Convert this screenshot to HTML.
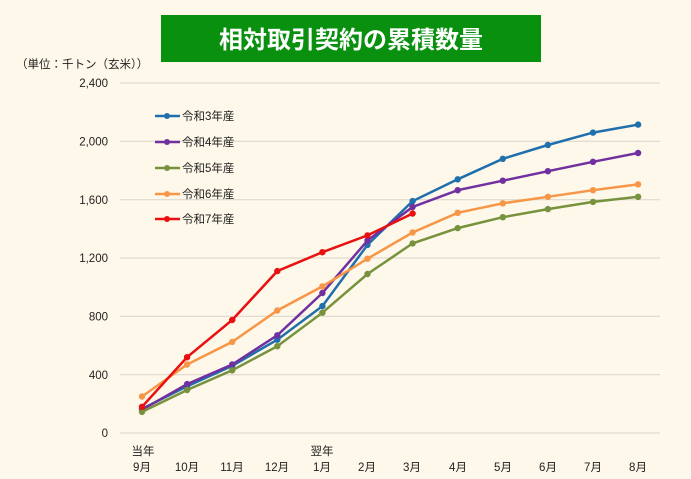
<!DOCTYPE html>
<html><head><meta charset="utf-8"><style>
html,body{margin:0;padding:0;background:#fef8ea;}
body{width:691px;height:479px;overflow:hidden;position:relative;font-family:"Liberation Sans","Noto Sans CJK JP",sans-serif;}
</style></head><body>
<svg width="691" height="479" xmlns="http://www.w3.org/2000/svg" style="position:absolute;left:0;top:0">
<rect x="161" y="15" width="380" height="47" fill="#0a900f"/>
<text x="351" y="48" text-anchor="middle" font-size="24" font-weight="bold" fill="#fff" font-family="Noto Sans CJK JP,sans-serif">相対取引契約の累積数量</text>
<text x="16" y="68" font-size="11.5" fill="#222" font-family="Liberation Sans,Noto Sans CJK JP,sans-serif">（単位：千トン（玄米））</text>
<g stroke="#d8d4c8" stroke-width="1">
<line x1="120" y1="83" x2="660" y2="83"/><line x1="120" y1="141.3" x2="660" y2="141.3"/>
<line x1="120" y1="199.7" x2="660" y2="199.7"/><line x1="120" y1="258" x2="660" y2="258"/>
<line x1="120" y1="316.3" x2="660" y2="316.3"/><line x1="120" y1="374.7" x2="660" y2="374.7"/>
<line x1="120" y1="433" x2="660" y2="433"/>
</g>
<g font-size="11.5" fill="#222" text-anchor="end">
<text x="108" y="87">2,400</text><text x="108" y="145.5">2,000</text><text x="108" y="204">1,600</text>
<text x="108" y="262">1,200</text><text x="108" y="320.5">800</text><text x="108" y="379">400</text><text x="108" y="437">0</text>
</g>
<g font-size="11.5" fill="#222" text-anchor="middle" font-family="Liberation Sans,Noto Sans CJK JP,sans-serif">
<text x="143" y="455">当年</text><text x="322" y="455">翌年</text>
<text x="142" y="471">9月</text><text x="187" y="471">10月</text><text x="232" y="471">11月</text><text x="277" y="471">12月</text>
<text x="322" y="471">1月</text><text x="367" y="471">2月</text><text x="412" y="471">3月</text><text x="458" y="471">4月</text>
<text x="503" y="471">5月</text><text x="548" y="471">6月</text><text x="593" y="471">7月</text><text x="638" y="471">8月</text>
</g>
<g id="s"></g>
<g font-size="11.5" fill="#222" font-family="Liberation Sans,Noto Sans CJK JP,sans-serif">
<text x="182" y="120">令和3年産</text><text x="182" y="146">令和4年産</text><text x="182" y="172">令和5年産</text>
<text x="182" y="198">令和6年産</text><text x="182" y="223">令和7年産</text>
</g>
</svg>
<script>
var S=[["#1f6fad",[165,320,460,640,870,1290,1590,1740,1880,1975,2060,2115],116],
["#7030a0",[160,335,470,670,960,1320,1550,1665,1730,1795,1860,1920],142],
["#77923c",[145,295,430,595,825,1090,1300,1405,1480,1535,1585,1620],168],
["#f79646",[250,470,625,840,1005,1195,1375,1510,1575,1620,1665,1705],194],
["#e81010",[180,520,775,1110,1240,1355,1505],219]];
var g=document.getElementById('s'),h='';
S.forEach(function(s){var p=s[1].map(function(v,i){return (142+i*45.1).toFixed(1)+','+(433-v*350/2400).toFixed(1)});
h+='<polyline fill="none" stroke="'+s[0]+'" stroke-width="2.5" points="'+p.join(' ')+'"/>';
p.forEach(function(q){var c=q.split(',');h+='<circle cx="'+c[0]+'" cy="'+c[1]+'" r="3.2" fill="'+s[0]+'"/>';});
h+='<line x1="155" x2="180" y1="'+s[2]+'" y2="'+s[2]+'" stroke="'+s[0]+'" stroke-width="2.5"/><circle cx="167" cy="'+s[2]+'" r="3" fill="'+s[0]+'"/>';});
g.innerHTML=h;
</script>
</body></html>
